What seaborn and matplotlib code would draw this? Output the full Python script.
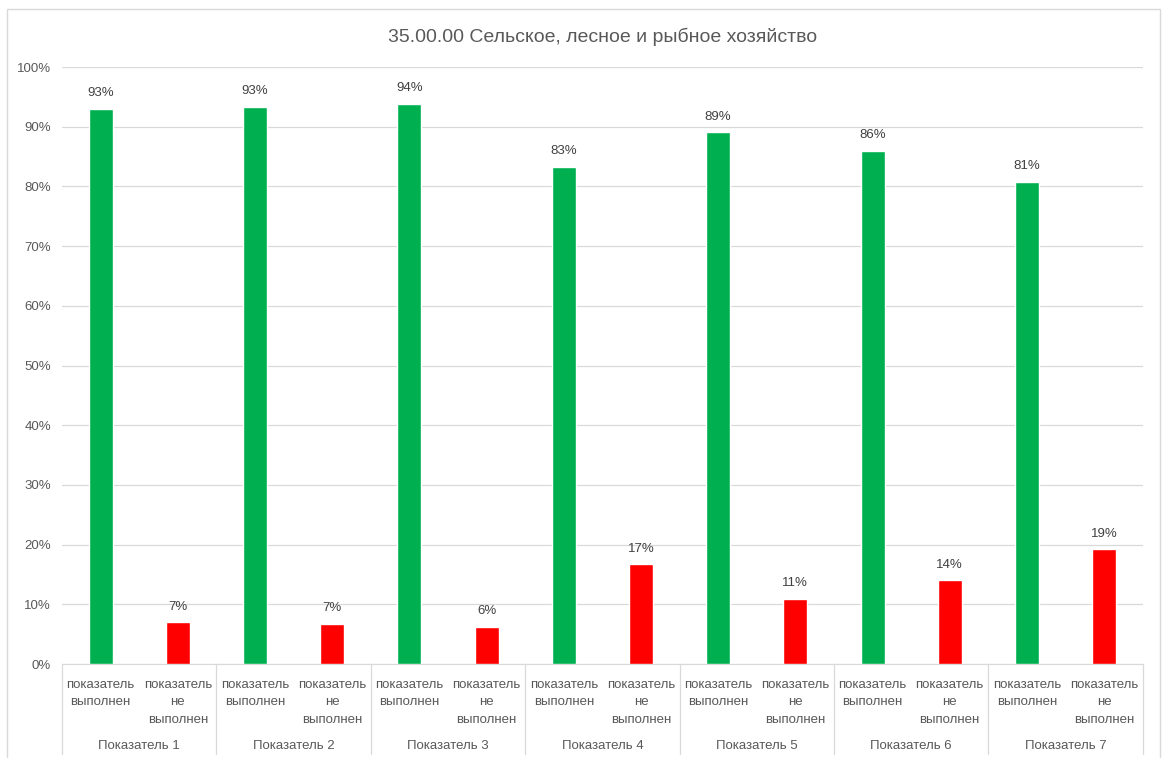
import pandas as pd
import seaborn as sns
from matplotlib import pyplot as plt
from matplotlib.patches import Rectangle

# values (share of regions, %)
groups = ['Показатель 1', 'Показатель 2', 'Показатель 3', 'Показатель 4',
          'Показатель 5', 'Показатель 6', 'Показатель 7']
done = [93.0, 93.3, 93.8, 83.3, 89.1, 86.0, 80.8]
not_done = [7.0, 6.7, 6.2, 16.7, 10.9, 14.0, 19.2]
statuses = ['показатель\nвыполнен', 'показатель\nне\nвыполнен']
title = '35.00.00 Сельское, лесное и рыбное хозяйство'

rows = []
for g, d, n in zip(groups, done, not_done):
    rows.append({'bar': g + ' / ' + statuses[0], 'status': statuses[0], 'value': d})
    rows.append({'bar': g + ' / ' + statuses[1], 'status': statuses[1], 'value': n})
df = pd.DataFrame(rows)

sns.set_style('white')
plt.rcParams['font.family'] = ['Liberation Sans', 'DejaVu Sans']
grey = '#595959'

fig = plt.figure(figsize=(11.62, 7.58), dpi=100)
ax = fig.add_axes([0.0534, 0.124, 0.930, 0.7876])

# chart border like the excel frame
fig.patches.append(Rectangle((0.006, -0.01), 0.992, 0.998, transform=fig.transFigure,
                             fill=False, edgecolor='#d9d9d9', linewidth=1))

sns.barplot(data=df, x='bar', y='value', hue='status',
            palette=['#00b050', '#ff0000'], dodge=False, width=0.31,
            saturation=1, legend=False, ax=ax, zorder=3)

ax.set_ylim(0, 100)
ax.set_xlim(-0.5, len(df) - 0.5)
ax.set_yticks(range(0, 101, 10))
ax.set_yticklabels([f'{t}%' for t in range(0, 101, 10)], color=grey, fontsize=9.5)
ax.tick_params(axis='y', length=0, pad=8)
ax.grid(axis='y', color='#d9d9d9', linewidth=0.9, zorder=0)
ax.set_xticks([])
ax.set_xlabel('')
ax.set_ylabel('')
for side in ['top', 'right', 'left']:
    ax.spines[side].set_visible(False)
ax.spines['bottom'].set_color('#d9d9d9')

# data labels, taken from the drawn bars themselves
for bar in ax.patches:
    h = bar.get_height()
    if h > 0:
        ax.text(bar.get_x() + bar.get_width() / 2, h + 1.6, f'{h:.0f}%',
                ha='center', va='bottom', fontsize=9.5, color='#404040')

# two level category axis
tr = ax.get_xaxis_transform()
for i, row in df.iterrows():
    ax.text(i, -0.025, row['status'], transform=tr, ha='center', va='top',
            fontsize=9.5, color=grey, linespacing=1.6)
for k, g in enumerate(groups):
    ax.text(2 * k + 0.5, -0.137, g, transform=tr, ha='center', va='center',
            fontsize=9.5, color=grey)
for k in range(len(groups) + 1):
    ax.plot([2 * k - 0.5, 2 * k - 0.5], [0, -0.15], transform=tr,
            color='#d9d9d9', linewidth=0.9, clip_on=False)

ax.set_title(title, fontsize=14, color=grey, pad=18)

plt.savefig('out.png', dpi=100)
plt.close()
